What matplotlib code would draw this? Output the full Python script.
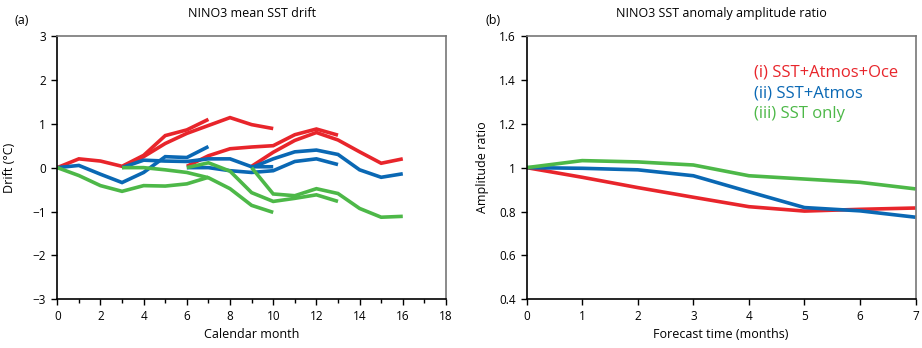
import numpy as np
import matplotlib
matplotlib.use('Agg')
import matplotlib.pyplot as pl
from matplotlib.ticker import MultipleLocator

pl.rcParams['font.family'] = ['Open Sans', 'DejaVu Sans']

# (a) NINO3 mean SST drift: forecasts started at months 0, 3, 6, 9
start_months = [0, 3, 6, 9]
drift_oce = [
    [0.0, 0.20, 0.15, 0.03, 0.28, 0.73, 0.86, 1.10],
    [0.0, 0.25, 0.55, 0.78, 0.96, 1.14, 0.98, 0.89],
    [0.03, 0.27, 0.43, 0.47, 0.50, 0.75, 0.88, 0.74],
    [0.03, 0.35, 0.62, 0.80, 0.63, 0.36, 0.10, 0.20],
]
drift_atm = [
    [0.0, 0.05, -0.15, -0.34, -0.11, 0.25, 0.23, 0.48],
    [0.0, 0.17, 0.15, 0.14, 0.20, 0.20, 0.02, 0.02],
    [0.0, 0.0, -0.07, -0.11, -0.07, 0.14, 0.20, 0.07],
    [0.0, 0.20, 0.36, 0.40, 0.30, -0.05, -0.22, -0.14],
]
drift_sst = [
    [0.0, -0.18, -0.41, -0.54, -0.41, -0.42, -0.37, -0.22],
    [0.0, 0.0, -0.05, -0.11, -0.23, -0.48, -0.86, -1.02],
    [0.0, 0.11, -0.08, -0.57, -0.77, -0.70, -0.62, -0.77],
    [0.0, -0.60, -0.64, -0.48, -0.59, -0.93, -1.13, -1.11],
]

# (b) NINO3 SST anomaly amplitude ratio
lead = [0, 1, 2, 3, 4, 5, 6, 7]
ratio_oce = [1.0, 0.956, 0.909, 0.865, 0.822, 0.802, 0.810, 0.816]
ratio_atm = [1.0, 0.997, 0.990, 0.963, 0.890, 0.818, 0.803, 0.774]
ratio_sst = [1.0, 1.032, 1.026, 1.012, 0.963, 0.948, 0.933, 0.903]

labels = ['(i) SST+Atmos+Oce', '(ii) SST+Atmos', '(iii) SST only']
colors = ['#e8252b', '#0a68b4', '#4db848']


def style_axes(ax):
    ax.tick_params(direction='out', length=4, width=1, labelsize=8.5, pad=4,
                   top=False, right=False)
    ax.tick_params(which='minor', direction='out', length=3, width=1)
    for s in ['top', 'right']:
        ax.spines[s].set_color('#777777')
    for s in ax.spines.values():
        s.set_linewidth(1.2)


fig = pl.figure(figsize=(9.22, 3.48), dpi=100)
ax0 = fig.add_axes([0.0621, 0.140, 0.4216, 0.7566])
ax1 = fig.add_axes([0.5712, 0.140, 0.4219, 0.7566])

for drift, c in zip([drift_oce, drift_atm, drift_sst], colors):
    for m0, d in zip(start_months, drift):
        ax0.plot(np.arange(m0, m0 + len(d)), d, color=c, lw=2.6,
                 solid_capstyle='butt', solid_joinstyle='miter')
ax0.set_xlim(0, 18)
ax0.set_ylim(-3, 3)
ax0.xaxis.set_major_locator(MultipleLocator(2))
ax0.xaxis.set_minor_locator(MultipleLocator(1))
ax0.yaxis.set_major_locator(MultipleLocator(1))
style_axes(ax0)
ax0.set_xlabel('Calendar month', fontsize=9, labelpad=3)
ax0.set_ylabel('Drift (°C)', fontsize=9, labelpad=12)
ax0.set_title('NINO3 mean SST drift', fontsize=9, pad=14)
fig.text(0.016, 0.94, '(a)', fontsize=9, va='center')

for r, c in zip([ratio_oce, ratio_atm, ratio_sst], colors):
    ax1.plot(lead, r, color=c, lw=2.6, solid_capstyle='butt')
ax1.set_xlim(0, 7)
ax1.set_ylim(0.4, 1.6)
ax1.xaxis.set_major_locator(MultipleLocator(1))
ax1.yaxis.set_major_locator(MultipleLocator(0.2))
ax1.yaxis.set_major_formatter(pl.FuncFormatter(lambda v, p: f'{v:g}'))
style_axes(ax1)
ax1.set_xlabel('Forecast time (months)', fontsize=9, labelpad=3)
ax1.set_ylabel('Amplitude ratio', fontsize=9, labelpad=7)
ax1.set_title('NINO3 SST anomaly amplitude ratio', fontsize=9, pad=14)
fig.text(0.527, 0.94, '(b)', fontsize=9, va='center')

for i, (lab, c) in enumerate(zip(labels, colors)):
    ax1.text(0.585, 0.863 - i * 0.08, lab, color=c, fontsize=12,
             transform=ax1.transAxes, va='center')

fig.savefig('out.png', dpi=100)
